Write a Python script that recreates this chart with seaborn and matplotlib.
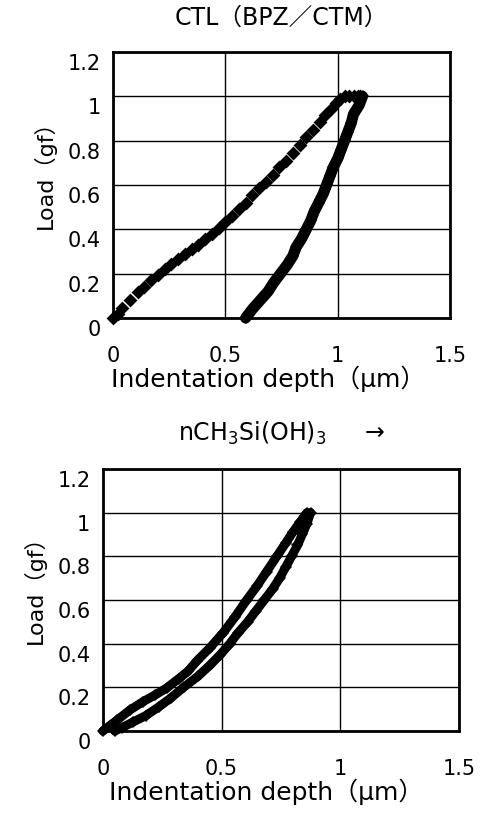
import matplotlib
matplotlib.use("Agg")
import matplotlib.pyplot as plt
import matplotlib.transforms as mtransforms
import pandas as pd
import seaborn as sns

# ***** top sample: CTL(BPZ/CTM) ***** #
ctl_load_depth = [0.00, 0.02, 0.04, 0.075, 0.11, 0.14, 0.17, 0.20, 0.23, 0.26, 0.29, 0.32,
                  0.35, 0.38, 0.41, 0.44, 0.47, 0.50, 0.53, 0.56, 0.59, 0.62, 0.65, 0.68,
                  0.71, 0.74, 0.77, 0.80, 0.83, 0.86, 0.89, 0.92, 0.945, 0.97, 0.99, 1.01,
                  1.03, 1.05, 1.07, 1.09, 1.10]
ctl_load_force = [0.00, 0.02, 0.045, 0.08, 0.115, 0.14, 0.17, 0.195, 0.22, 0.245, 0.265, 0.29,
                  0.31, 0.33, 0.355, 0.38, 0.405, 0.435, 0.46, 0.49, 0.52, 0.555, 0.585, 0.615,
                  0.645, 0.68, 0.71, 0.745, 0.78, 0.815, 0.85, 0.885, 0.915, 0.945, 0.97, 0.99,
                  1.0, 1.0, 1.0, 1.0, 1.0]
ctl_unload_depth = [1.11, 1.095, 1.07, 1.06, 1.045, 1.03, 1.015, 1.0, 0.98, 0.965, 0.95, 0.935,
                    0.915, 0.895, 0.88, 0.86, 0.84, 0.815, 0.80, 0.775, 0.745, 0.715, 0.69,
                    0.655, 0.62, 0.59]
ctl_unload_force = [1.0, 0.96, 0.92, 0.88, 0.84, 0.80, 0.76, 0.72, 0.68, 0.64, 0.60, 0.56,
                    0.52, 0.48, 0.44, 0.40, 0.36, 0.32, 0.28, 0.24, 0.20, 0.16, 0.12,
                    0.08, 0.04, 0.0]

# ***** bottom sample: nCH3Si(OH)3 added ***** #
si_load_depth = [0.0, 0.03, 0.06, 0.114, 0.17, 0.22, 0.269, 0.32, 0.36, 0.395, 0.45, 0.507,
                 0.555, 0.606, 0.65, 0.69, 0.733, 0.77, 0.80, 0.83, 0.85, 0.86]
si_load_force = [0.0, 0.025, 0.05, 0.096, 0.135, 0.165, 0.197, 0.24, 0.275, 0.32, 0.38, 0.45,
                 0.52, 0.60, 0.665, 0.73, 0.80, 0.86, 0.91, 0.955, 0.985, 1.0]
si_unload_depth = [0.875, 0.86, 0.84, 0.82, 0.795, 0.77, 0.745, 0.715, 0.68, 0.645, 0.61,
                   0.57, 0.535, 0.495, 0.45, 0.40, 0.34, 0.285, 0.235, 0.18, 0.125, 0.08, 0.05]
si_unload_force = [1.0, 0.95, 0.90, 0.85, 0.80, 0.75, 0.70, 0.65, 0.60, 0.55, 0.50,
                   0.45, 0.40, 0.35, 0.30, 0.25, 0.20, 0.15, 0.11, 0.07, 0.04, 0.015, 0.0]

x_ticks = [0, 0.5, 1, 1.5]
x_tick_labels = ["0", "0.5", "1", "1.5"]
y_ticks = [0, 0.2, 0.4, 0.6, 0.8, 1, 1.2]
y_tick_labels = ["0", "0.2", "0.4", "0.6", "0.8", "1", "1.2"]

sns.set_style("white", {"text.color": "black", "xtick.color": "black",
                        "ytick.color": "black", "axes.labelcolor": "black"})
plt.rcParams["font.family"] = ["DejaVu Sans", "Noto Sans CJK JP"]
plt.rcParams["mathtext.fontset"] = "dejavusans"

fig = plt.figure(figsize=(4.83, 8.27), dpi=100)
ax1 = fig.add_axes([0.234, 0.6155, 0.698, 0.3216])
ax2 = fig.add_axes([0.213, 0.1161, 0.737, 0.3168])

ctl_load = pd.DataFrame({"depth": ctl_load_depth, "load": ctl_load_force})
ctl_unload = pd.DataFrame({"depth": ctl_unload_depth, "load": ctl_unload_force})
si_load = pd.DataFrame({"depth": si_load_depth, "load": si_load_force})
si_unload = pd.DataFrame({"depth": si_unload_depth, "load": si_unload_force})

# top: dashed looking loading branch, solid unloading branch
sns.scatterplot(data=ctl_load, x="depth", y="load", marker="D", s=50, color="black",
                edgecolor="black", linewidth=0, ax=ax1, zorder=3, clip_on=False)
sns.lineplot(data=ctl_unload, x="depth", y="load", sort=False, color="black", lw=8,
             marker="D", markersize=6, markeredgewidth=0, ax=ax1, zorder=3, clip_on=False)

# bottom: both branches thick, thin white gap between them
sns.lineplot(data=si_load, x="depth", y="load", sort=False, color="black", lw=6.5,
             marker="D", markersize=6, markeredgewidth=0, ax=ax2, zorder=3, clip_on=False)
sns.lineplot(data=si_unload, x="depth", y="load", sort=False, color="black", lw=6.5,
             marker="D", markersize=6, markeredgewidth=0, ax=ax2, zorder=3, clip_on=False)

titles = ["CTL（BPZ／CTM）", "nCH$_3$Si(OH)$_3$     →"]
for ax, title in zip([ax1, ax2], titles):
    ax.set_xlim(0, 1.5)
    ax.set_ylim(0, 1.2)
    ax.set_xticks(x_ticks)
    ax.set_xticklabels(x_tick_labels)
    ax.set_yticks(y_ticks)
    ax.set_yticklabels(y_tick_labels)
    ax.grid(True, color="black", lw=1)
    ax.set_axisbelow(True)
    for sp in ax.spines.values():
        sp.set_color("black")
        sp.set_linewidth(2)
    ax.tick_params(axis="x", length=0, pad=20, labelsize=15, labelcolor="black")
    ax.tick_params(axis="y", length=0, pad=9, labelsize=15, labelcolor="black")
    # labels sit a bit below their grid lines in the original
    shift = mtransforms.ScaledTranslation(0, -10 / 100, fig.dpi_scale_trans)
    for lab in ax.get_yticklabels():
        lab.set_transform(lab.get_transform() + shift)
    ax.set_xlabel("Indentation depth（μm）", fontsize=18, labelpad=0, color="black")
    ax.xaxis.label.set_x(0.46)
    ax.set_ylabel("Load（gf）", fontsize=16, labelpad=8, color="black")
    ax.yaxis.label.set_y(0.56)
    ax.set_title(title, fontsize=17, pad=20, color="black")

fig.savefig("out.png", dpi=100)
